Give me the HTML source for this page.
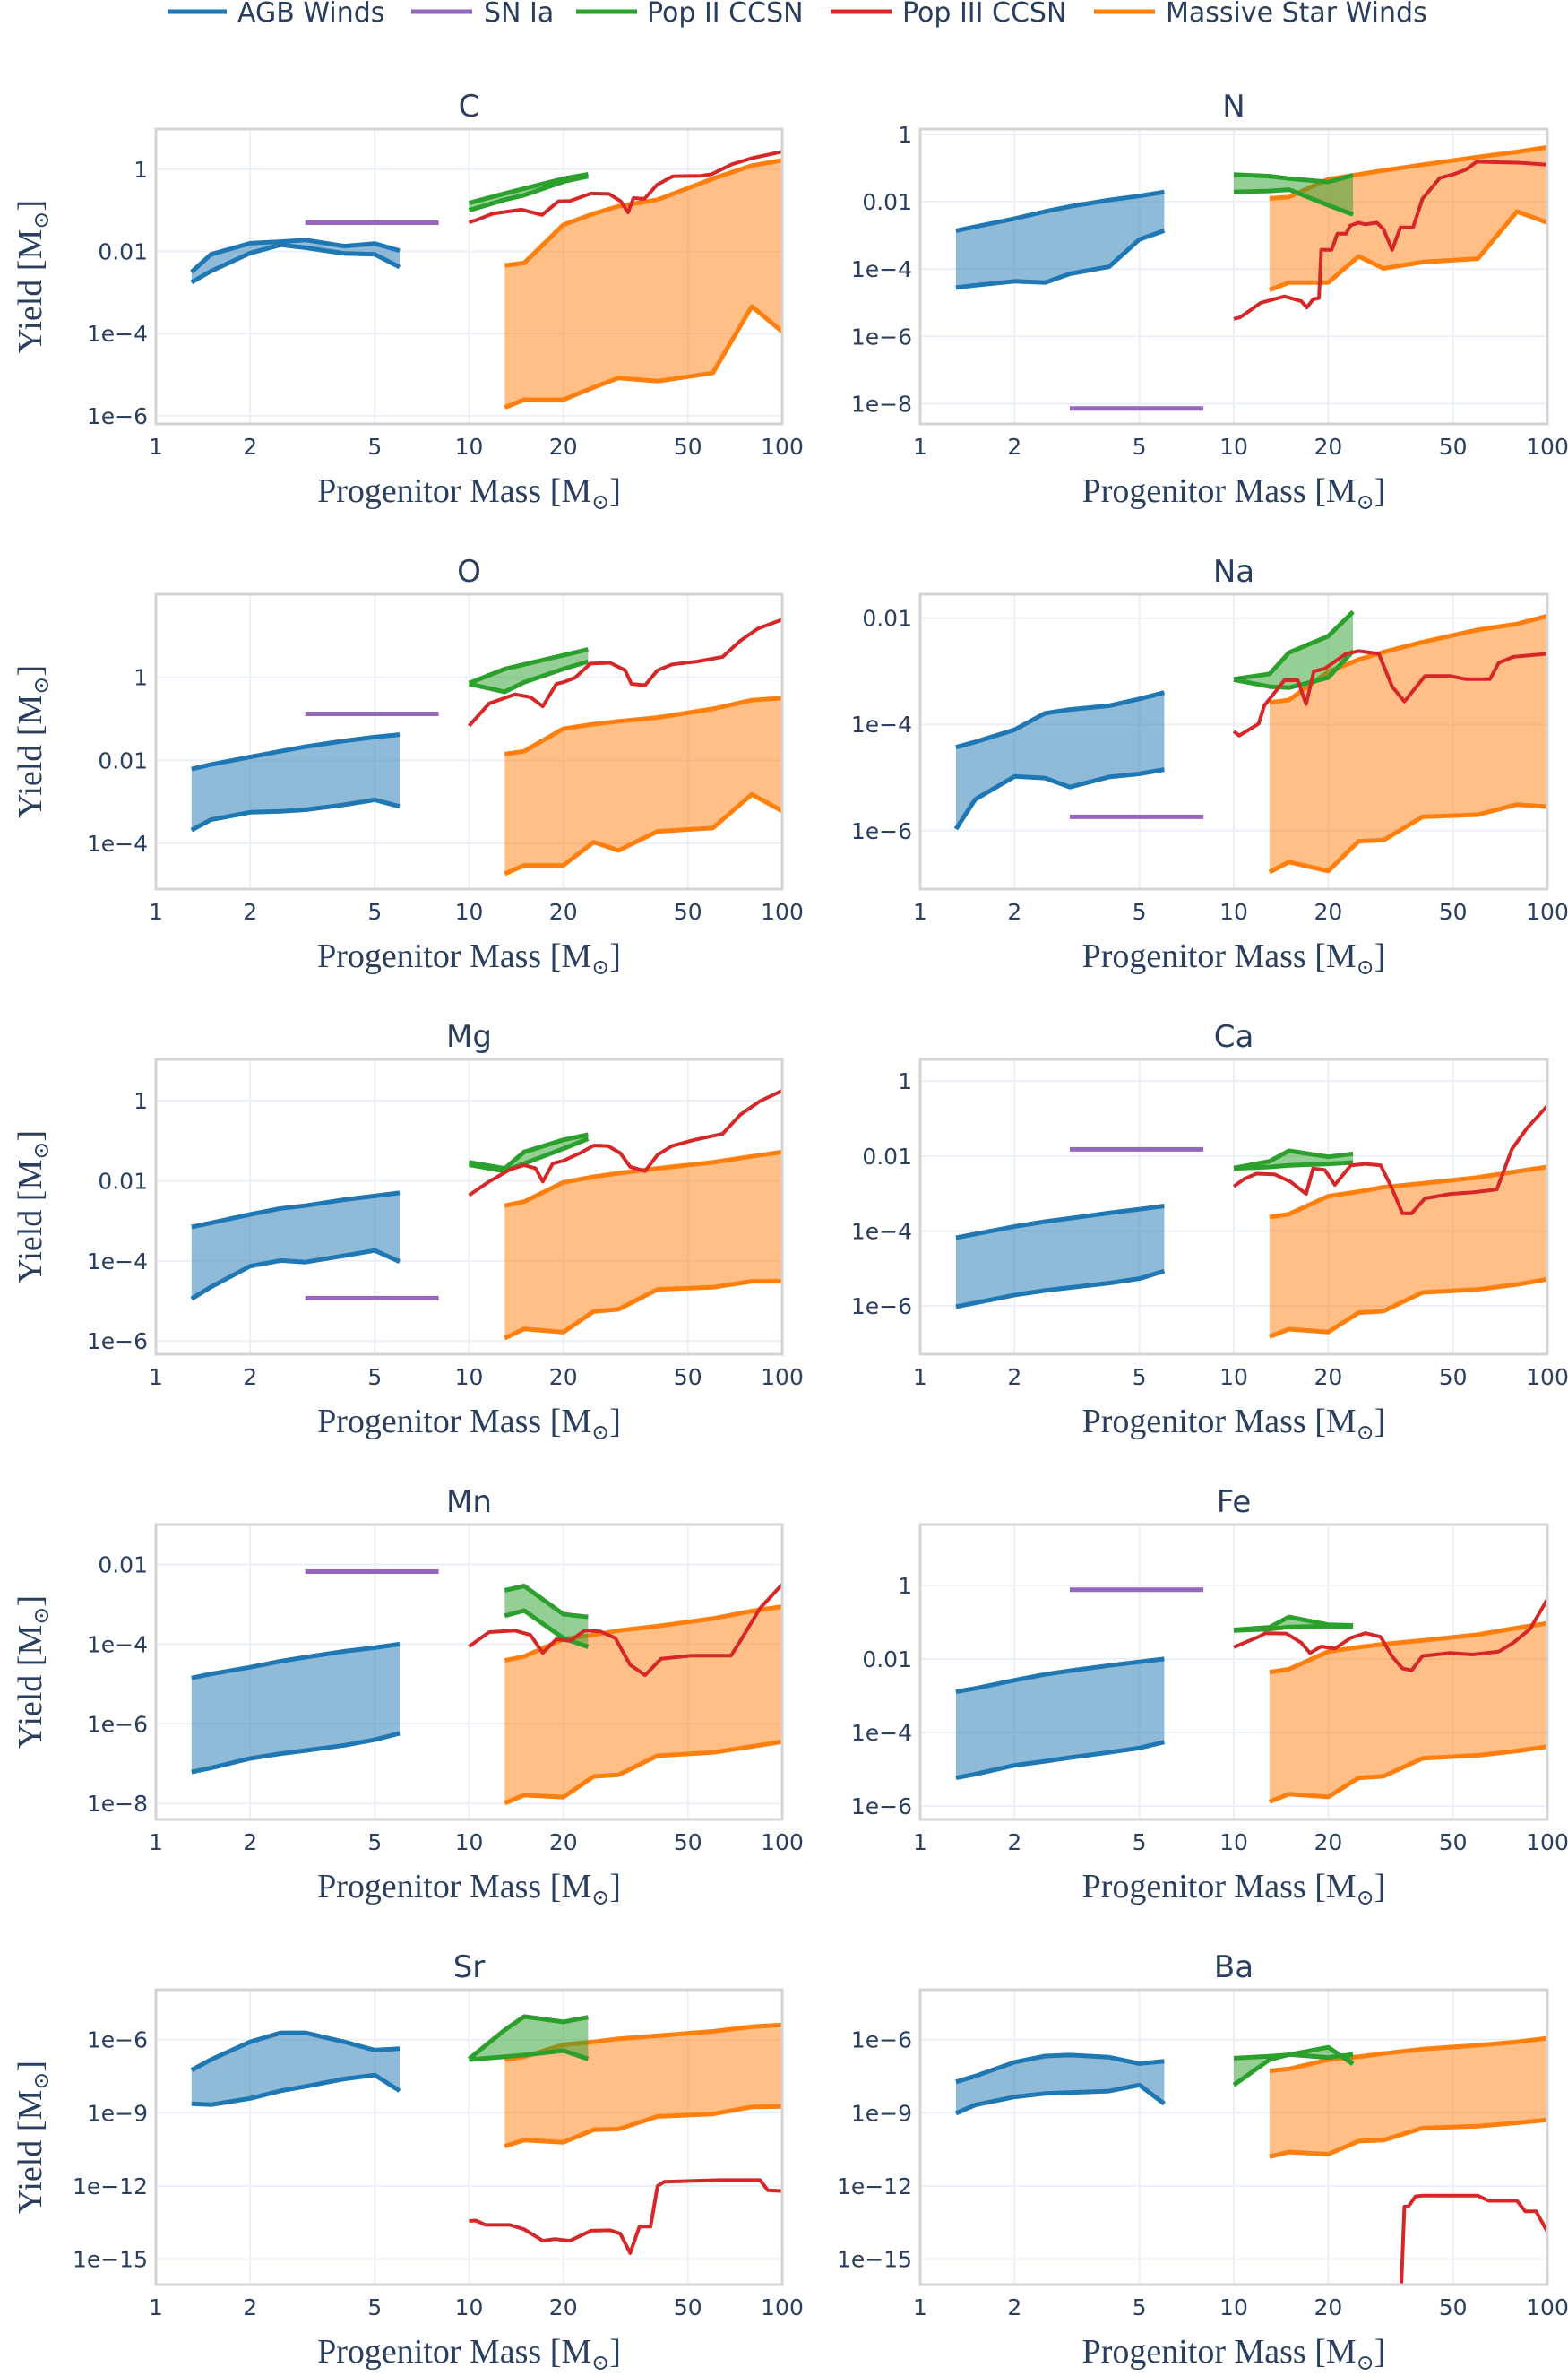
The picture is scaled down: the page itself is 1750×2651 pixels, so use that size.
<!DOCTYPE html>
<html><head><meta charset="utf-8"><title>Yields</title>
<style>
html,body{margin:0;padding:0;background:#fff;}
svg{display:block;}
text{font-family:"DejaVu Sans","Liberation Sans",sans-serif;fill:#2a3f5f;}
.serif{font-family:"Liberation Serif","DejaVu Serif",serif;}
</style></head>
<body>
<svg id="chart" xmlns="http://www.w3.org/2000/svg" width="1750" height="2651" viewBox="0 0 1750 2651">
<g id="legend">
  <g><line x1="187" y1="13" x2="253" y2="13" stroke="#1f77b4" stroke-width="5"/><text x="265" y="24" font-size="30">AGB Winds</text></g>
  <g><line x1="459" y1="13" x2="527" y2="13" stroke="#9467bd" stroke-width="5"/><text x="540" y="24" font-size="30">SN Ia</text></g>
  <g><line x1="643" y1="13" x2="711" y2="13" stroke="#2ca02c" stroke-width="5"/><text x="722" y="24" font-size="30">Pop II CCSN</text></g>
  <g><line x1="927" y1="13" x2="995" y2="13" stroke="#d62728" stroke-width="5"/><text x="1007" y="24" font-size="30">Pop III CCSN</text></g>
  <g><line x1="1221" y1="13" x2="1289" y2="13" stroke="#ff7f0e" stroke-width="5"/><text x="1301" y="24" font-size="30">Massive Star Winds</text></g>
</g>
</svg>
<script>
// ---- shared mass grids ----
const agbMass = [1.3, 1.5, 2, 2.5, 3, 4, 5, 6];
const msMass = [13, 15, 20, 25, 30, 40, 60, 80, 100];
const popIIMass = [10, 13, 15, 20, 24];
const snIaMass = [3, 8];
const xTickVals = [1, 2, 5, 10, 20, 50, 100];
const xTickLabels = ["1", "2", "5", "10", "20", "50", "100"];
const elements = ["C", "N", "O", "Na", "Mg", "Ca", "Mn", "Fe", "Sr", "Ba"];

// ---- y ranges (log10) ----
const C_range = [-6.2, 0.98];
const N_range = [-8.6, 0.16];
const O_range = [-5.1, 2.0];
const Na_range = [-7.1, -1.55];
const Mg_range = [-6.33, 1.03];
const Ca_range = [-7.29, 0.58];
const Mn_range = [-8.4, -1.0];
const Fe_range = [-6.36, 1.65];
const Sr_range = [-16.05, -3.95];
const Ba_range = [-16.05, -3.95];

// ---- y ticks (log10) ----
const C_ticks = [0, -2, -4, -6];
const N_ticks = [0, -2, -4, -6, -8];
const O_ticks = [0, -2, -4];
const Na_ticks = [-2, -4, -6];
const Mg_ticks = [0, -2, -4, -6];
const Ca_ticks = [0, -2, -4, -6];
const Mn_ticks = [-2, -4, -6, -8];
const Fe_ticks = [0, -2, -4, -6];
const Sr_ticks = [-6, -9, -12, -15];
const Ba_ticks = [-6, -9, -12, -15];

// ---- C ----
const C_agbHi = [-2.5, -2.07, -1.80, -1.76, -1.72, -1.87, -1.81, -1.98];
const C_agbLo = [-2.75, -2.48, -2.04, -1.84, -1.91, -2.05, -2.07, -2.38];
const C_snIa = -1.30;
const C_p2Hi = [-0.82, -0.59, -0.47, -0.23, -0.12];
const C_p2Lo = [-1.0, -0.74, -0.63, -0.30, -0.17];
const C_p3Mass = [10, 10.6, 11.9, 14.7, 17.1, 19.3, 21, 24.5, 28, 30.5, 32.2, 33.5, 36.3, 39.8, 44.7, 55, 59.5, 69, 80, 100];
const C_p3 = [-1.29, -1.23, -1.08, -0.98, -1.11, -0.78, -0.77, -0.59, -0.60, -0.78, -1.05, -0.70, -0.72, -0.38, -0.17, -0.16, -0.12, 0.12, 0.27, 0.43];
const C_msHi = [-2.34, -2.28, -1.35, -1.08, -0.90, -0.74, -0.23, 0.09, 0.22];
const C_msLo = [-5.80, -5.61, -5.61, -5.31, -5.08, -5.16, -4.96, -3.34, -3.95];

// ---- N ----
const N_agbHi = [-2.86, -2.74, -2.50, -2.29, -2.14, -1.95, -1.83, -1.71];
const N_agbLo = [-4.55, -4.48, -4.36, -4.40, -4.14, -3.93, -3.12, -2.86];
const N_snIa = -8.14;
const N_p2Hi = [-1.19, -1.24, -1.31, -1.41, -1.21];
const N_p2Lo = [-1.71, -1.68, -1.64, -2.10, -2.38];
const N_p3Mass = [10, 10.5, 12.2, 14.5, 16.4, 17.1, 17.9, 18.7, 19, 20.5, 21.4, 22.8, 23.5, 25, 26.3, 28.6, 30, 32, 34, 37.3, 40, 41.7, 45.4, 50, 54.9, 59.6, 82.2, 100];
const N_p3 = [-5.48, -5.43, -5.0, -4.81, -4.95, -5.14, -4.90, -4.86, -3.43, -3.43, -2.95, -2.95, -2.71, -2.62, -2.67, -2.62, -2.81, -3.43, -2.76, -2.76, -1.90, -1.71, -1.29, -1.19, -1.05, -0.81, -0.84, -0.90];
const N_msHi = [-1.90, -1.86, -1.33, -1.19, -1.07, -0.90, -0.67, -0.52, -0.38];
const N_msLo = [-4.62, -4.40, -4.40, -3.62, -3.98, -3.79, -3.69, -2.29, -2.62];

// ---- O ----
const O_agbHi = [-2.21, -2.10, -1.92, -1.78, -1.67, -1.53, -1.44, -1.38];
const O_agbLo = [-3.68, -3.43, -3.25, -3.23, -3.19, -3.07, -2.95, -3.11];
const O_snIa = -0.88;
const O_p2Hi = [-0.14, 0.20, 0.31, 0.53, 0.67];
const O_p2Lo = [-0.16, -0.35, -0.12, 0.20, 0.38];
const O_p3Mass = [10, 11.6, 14, 15.7, 17.2, 19, 20, 21.8, 24.4, 28.2, 31.5, 33, 36.5, 40, 44.5, 53.3, 64.5, 73.5, 83.5, 100];
const O_p3 = [-1.17, -0.63, -0.41, -0.48, -0.70, -0.16, -0.12, -0.01, 0.33, 0.35, 0.17, -0.16, -0.19, 0.17, 0.31, 0.38, 0.49, 0.88, 1.17, 1.39];
const O_msHi = [-1.85, -1.78, -1.24, -1.13, -1.06, -0.97, -0.76, -0.55, -0.50];
const O_msLo = [-4.73, -4.53, -4.53, -3.97, -4.17, -3.71, -3.63, -2.82, -3.22];

// ---- Na ----
const Na_agbHi = [-4.43, -4.33, -4.10, -3.79, -3.72, -3.65, -3.52, -3.40];
const Na_agbLo = [-5.97, -5.41, -4.98, -5.01, -5.18, -4.99, -4.93, -4.85];
const Na_snIa = -5.74;
const Na_p2Hi = [-3.15, -3.05, -2.65, -2.34, -1.88];
const Na_p2Lo = [-3.16, -3.29, -3.31, -3.12, -2.62];
const Na_p3Mass = [10, 10.4, 12, 12.5, 14.5, 16, 17, 18, 19.5, 22.8, 25, 29, 32, 35, 40.7, 49, 55, 65.6, 70, 77.9, 100];
const Na_p3 = [-4.13, -4.21, -3.99, -3.65, -3.17, -3.17, -3.62, -3.0, -2.95, -2.67, -2.62, -2.67, -3.29, -3.57, -3.09, -3.09, -3.15, -3.15, -2.84, -2.73, -2.67];
const Na_msHi = [-3.59, -3.54, -3.01, -2.78, -2.64, -2.45, -2.22, -2.11, -1.96];
const Na_msLo = [-6.78, -6.59, -6.76, -6.20, -6.18, -5.74, -5.70, -5.51, -5.55];

// ---- Mg ----
const Mg_agbHi = [-3.15, -3.05, -2.84, -2.69, -2.62, -2.47, -2.38, -2.30];
const Mg_agbLo = [-4.95, -4.65, -4.13, -3.99, -4.03, -3.87, -3.74, -4.02];
const Mg_snIa = -4.93;
const Mg_p2Hi = [-1.54, -1.69, -1.28, -0.98, -0.85];
const Mg_p2Lo = [-1.60, -1.76, -1.57, -1.20, -0.95];
const Mg_p3Mass = [10, 11.6, 13.5, 15, 16.3, 17.2, 18.5, 20, 22.6, 25, 27.8, 30.4, 32.7, 36.5, 40, 44.5, 52.4, 64.5, 73.5, 85, 100];
const Mg_p3 = [-2.36, -2.02, -1.72, -1.61, -1.69, -2.02, -1.57, -1.50, -1.31, -1.12, -1.13, -1.31, -1.65, -1.76, -1.35, -1.13, -0.98, -0.83, -0.35, -0.01, 0.25];
const Mg_msHi = [-2.62, -2.52, -2.04, -1.90, -1.81, -1.69, -1.54, -1.39, -1.28];
const Mg_msLo = [-5.93, -5.70, -5.78, -5.26, -5.21, -4.71, -4.66, -4.51, -4.51];

// ---- Ca ----
const Ca_agbHi = [-4.18, -4.08, -3.88, -3.75, -3.66, -3.52, -3.42, -3.33];
const Ca_agbLo = [-6.02, -5.92, -5.71, -5.59, -5.51, -5.39, -5.27, -5.07];
const Ca_snIa = -1.82;
const Ca_p2Hi = [-2.32, -2.14, -1.86, -2.02, -1.94];
const Ca_p2Lo = [-2.33, -2.29, -2.25, -2.21, -2.17];
const Ca_p3Mass = [10, 10.8, 11.8, 13.5, 15.2, 17, 17.9, 19.5, 21, 23.6, 26.3, 29.4, 31.9, 34.5, 36.9, 40.7, 49, 57.7, 69, 77, 86, 100];
const Ca_p3 = [-2.81, -2.61, -2.47, -2.49, -2.69, -3.01, -2.33, -2.37, -2.77, -2.25, -2.21, -2.25, -2.85, -3.53, -3.53, -3.13, -3.01, -2.97, -2.89, -1.82, -1.26, -0.66];
const Ca_msHi = [-3.63, -3.55, -3.07, -2.95, -2.83, -2.73, -2.57, -2.41, -2.29];
const Ca_msLo = [-6.82, -6.62, -6.70, -6.18, -6.14, -5.64, -5.56, -5.43, -5.29];

// ---- Mn ----
const Mn_agbHi = [-4.85, -4.75, -4.58, -4.43, -4.33, -4.18, -4.09, -4.0];
const Mn_agbLo = [-7.21, -7.11, -6.87, -6.75, -6.67, -6.54, -6.40, -6.24];
const Mn_snIa = -2.18;
const Mn_p2Hi = [null, -2.65, -2.54, -3.25, -3.32];
const Mn_p2Lo = [null, -3.29, -3.16, -3.85, -4.07];
const Mn_p3Mass = [10, 11.6, 14, 15.7, 17.2, 19, 21, 23.4, 26.2, 29.3, 32.7, 36.5, 41, 51.2, 68.6, 73.5, 85, 100];
const Mn_p3 = [-4.06, -3.70, -3.66, -3.77, -4.22, -3.88, -3.92, -3.66, -3.68, -3.85, -4.52, -4.78, -4.37, -4.29, -4.29, -3.92, -3.10, -2.50];
const Mn_msHi = [-4.41, -4.31, -3.88, -3.77, -3.66, -3.55, -3.36, -3.17, -3.06];
const Mn_msLo = [-7.99, -7.79, -7.84, -7.32, -7.28, -6.80, -6.72, -6.57, -6.45];

// ---- Fe ----
const Fe_agbHi = [-2.89, -2.80, -2.58, -2.42, -2.32, -2.18, -2.08, -2.0];
const Fe_agbLo = [-5.23, -5.13, -4.89, -4.78, -4.68, -4.54, -4.42, -4.26];
const Fe_snIa = -0.12;
const Fe_p2Hi = [-1.21, -1.14, -0.86, -1.07, -1.09];
const Fe_p2Lo = [-1.23, -1.19, -1.13, -1.11, -1.13];
const Fe_p3Mass = [10, 12, 12.6, 14.7, 16.4, 17.5, 19, 21, 23.6, 26.3, 29.4, 31.9, 34.5, 36.9, 40, 49, 57.7, 70, 78, 88, 100];
const Fe_p3 = [-1.68, -1.40, -1.30, -1.31, -1.56, -1.84, -1.66, -1.72, -1.43, -1.30, -1.40, -1.92, -2.26, -2.31, -1.92, -1.84, -1.88, -1.80, -1.56, -1.19, -0.38];
const Fe_msHi = [-2.36, -2.28, -1.80, -1.68, -1.60, -1.50, -1.34, -1.16, -1.03];
const Fe_msLo = [-5.88, -5.67, -5.75, -5.23, -5.19, -4.70, -4.62, -4.50, -4.38];

// ---- Sr ----
const Sr_agbHi = [-7.25, -6.82, -6.09, -5.72, -5.72, -6.09, -6.43, -6.37];
const Sr_agbLo = [-8.63, -8.67, -8.41, -8.10, -7.92, -7.61, -7.45, -8.10];
const Sr_snIa = null;
const Sr_p2Hi = [-6.79, -5.6, -5.05, -5.27, -5.08];
const Sr_p2Lo = [-6.82, -6.70, -6.63, -6.45, -6.79];
const Sr_p3Mass = [10, 10.5, 11.3, 13.5, 15, 17.2, 18.8, 21, 24.5, 28.2, 30.4, 32.7, 35, 38, 40, 42, 63, 85, 90, 100];
const Sr_p3 = [-13.44, -13.42, -13.60, -13.60, -13.78, -14.25, -14.18, -14.25, -13.84, -13.82, -13.96, -14.76, -13.67, -13.67, -12.0, -11.83, -11.76, -11.76, -12.18, -12.21];
const Sr_msHi = [-6.82, -6.70, -6.21, -6.09, -5.96, -5.84, -5.66, -5.47, -5.39];
const Sr_msLo = [-10.37, -10.12, -10.21, -9.70, -9.67, -9.15, -9.05, -8.76, -8.74];

// ---- Ba ----
const Ba_agbHi = [-7.73, -7.49, -6.92, -6.67, -6.63, -6.72, -6.98, -6.88];
const Ba_agbLo = [-9.02, -8.68, -8.35, -8.21, -8.17, -8.11, -7.86, -8.63];
const Ba_snIa = null;
const Ba_p2Hi = [-6.76, -6.68, -6.62, -6.31, -7.0];
const Ba_p2Lo = [-7.86, -6.82, -6.61, -6.73, -6.60];
const Ba_p3Mass = [34, 35, 36, 38, 40, 60, 65, 80, 85, 92, 100];
const Ba_p3 = [-17, -12.85, -12.85, -12.43, -12.40, -12.40, -12.61, -12.61, -13.04, -13.04, -13.88];
const Ba_msHi = [-7.28, -7.20, -6.82, -6.70, -6.57, -6.39, -6.23, -6.09, -5.94];
const Ba_msLo = [-10.80, -10.61, -10.70, -10.16, -10.12, -9.63, -9.55, -9.41, -9.29];

const panelData = {
  C:{range:C_range,ticks:C_ticks,agbHi:C_agbHi,agbLo:C_agbLo,snIa:C_snIa,p2Hi:C_p2Hi,p2Lo:C_p2Lo,p3M:C_p3Mass,p3:C_p3,msHi:C_msHi,msLo:C_msLo},
  N:{range:N_range,ticks:N_ticks,agbHi:N_agbHi,agbLo:N_agbLo,snIa:N_snIa,p2Hi:N_p2Hi,p2Lo:N_p2Lo,p3M:N_p3Mass,p3:N_p3,msHi:N_msHi,msLo:N_msLo},
  O:{range:O_range,ticks:O_ticks,agbHi:O_agbHi,agbLo:O_agbLo,snIa:O_snIa,p2Hi:O_p2Hi,p2Lo:O_p2Lo,p3M:O_p3Mass,p3:O_p3,msHi:O_msHi,msLo:O_msLo},
  Na:{range:Na_range,ticks:Na_ticks,agbHi:Na_agbHi,agbLo:Na_agbLo,snIa:Na_snIa,p2Hi:Na_p2Hi,p2Lo:Na_p2Lo,p3M:Na_p3Mass,p3:Na_p3,msHi:Na_msHi,msLo:Na_msLo},
  Mg:{range:Mg_range,ticks:Mg_ticks,agbHi:Mg_agbHi,agbLo:Mg_agbLo,snIa:Mg_snIa,p2Hi:Mg_p2Hi,p2Lo:Mg_p2Lo,p3M:Mg_p3Mass,p3:Mg_p3,msHi:Mg_msHi,msLo:Mg_msLo},
  Ca:{range:Ca_range,ticks:Ca_ticks,agbHi:Ca_agbHi,agbLo:Ca_agbLo,snIa:Ca_snIa,p2Hi:Ca_p2Hi,p2Lo:Ca_p2Lo,p3M:Ca_p3Mass,p3:Ca_p3,msHi:Ca_msHi,msLo:Ca_msLo},
  Mn:{range:Mn_range,ticks:Mn_ticks,agbHi:Mn_agbHi,agbLo:Mn_agbLo,snIa:Mn_snIa,p2Hi:Mn_p2Hi,p2Lo:Mn_p2Lo,p3M:Mn_p3Mass,p3:Mn_p3,msHi:Mn_msHi,msLo:Mn_msLo},
  Fe:{range:Fe_range,ticks:Fe_ticks,agbHi:Fe_agbHi,agbLo:Fe_agbLo,snIa:Fe_snIa,p2Hi:Fe_p2Hi,p2Lo:Fe_p2Lo,p3M:Fe_p3Mass,p3:Fe_p3,msHi:Fe_msHi,msLo:Fe_msLo},
  Sr:{range:Sr_range,ticks:Sr_ticks,agbHi:Sr_agbHi,agbLo:Sr_agbLo,snIa:Sr_snIa,p2Hi:Sr_p2Hi,p2Lo:Sr_p2Lo,p3M:Sr_p3Mass,p3:Sr_p3,msHi:Sr_msHi,msLo:Sr_msLo},
  Ba:{range:Ba_range,ticks:Ba_ticks,agbHi:Ba_agbHi,agbLo:Ba_agbLo,snIa:Ba_snIa,p2Hi:Ba_p2Hi,p2Lo:Ba_p2Lo,p3M:Ba_p3Mass,p3:Ba_p3,msHi:Ba_msHi,msLo:Ba_msLo}
};

const NS = "http://www.w3.org/2000/svg";
const svg = document.getElementById("chart");
function mk(tag, attrs, parent){
  const e = document.createElementNS(NS, tag);
  for (const k in attrs) e.setAttribute(k, attrs[k]);
  parent.appendChild(e);
  return e;
}
function tickLabel(v){ if (v === 0) return "1"; if (v === -2) return "0.01"; return "1e\u2212" + (-v); }

const defs = mk("defs", {}, svg);

elements.forEach((el, i) => {
  const d = panelData[el];
  const col = i % 2, row = Math.floor(i / 2);
  const x0 = col === 0 ? 174 : 1027, x1 = col === 0 ? 873 : 1727;
  const top = 144 + 519 * row, bot = top + 329;
  const [ymin, ymax] = d.range;
  const xs = m => x0 + Math.log10(m) / 2 * (x1 - x0);
  const ys = v => top + (ymax - v) / (ymax - ymin) * (bot - top);

  const g = mk("g", {}, svg);
  
  

  const cp = mk("clipPath", {id: "clip-" + el}, defs);
  mk("rect", {x: x0, y: top, width: x1 - x0, height: bot - top}, cp);

  // title
  const t = mk("text", {x: (x0 + x1) / 2, y: top - 14, "text-anchor": "middle", "font-size": 34}, g);
  t.textContent = el;
  
  

  // grid
  const grid = mk("g", {stroke: "#ebf0f8", "stroke-width": 2}, g);
  
  
  xTickVals.forEach(v => { const x = xs(v); mk("line", {x1: x, x2: x, y1: top, y2: bot}, grid); });
  d.ticks.forEach(v => { const y = ys(v); mk("line", {x1: x0, x2: x1, y1: y, y2: y}, grid); });

  // x tick labels
  xTickVals.forEach((v, k) => {
    const tl = mk("text", {x: xs(v), y: bot + 34, "text-anchor": "middle", "font-size": 25}, g);
    tl.textContent = xTickLabels[k];
    
    
  });
  // y tick labels
  d.ticks.forEach(v => {
    const tl = mk("text", {x: x0 - 9, y: ys(v) + 9, "text-anchor": "end", "font-size": 25}, g);
    tl.textContent = tickLabel(v);
    
    
  });

  // x axis title
  const xt = mk("text", {x: (x0 + x1) / 2, y: bot + 87, "text-anchor": "middle", "font-size": 38, class: "serif"}, g);
  xt.innerHTML = 'Progenitor Mass [M<tspan font-size="24" dy="8">\u2299</tspan><tspan dy="-8">]</tspan>';
  
  

  if (col === 0) {
    const cy = (top + bot) / 2;
    const yt = mk("text", {x: 0, y: 0, "text-anchor": "middle", "font-size": 38, class: "serif", transform: "translate(46," + cy + ") rotate(-90)"}, g);
    yt.innerHTML = 'Yield [M<tspan font-size="24" dy="8">\u2299</tspan><tspan dy="-8">]</tspan>';
    
    
  }

  const marks = mk("g", {"clip-path": "url(#clip-" + el + ")", "stroke-linejoin": "round", fill: "none"}, g);
  
  

  function band(mass, hi, lo, color, fillc, name) {
    const pts = [];
    mass.forEach((m, k) => { if (hi[k] !== null && lo[k] !== null) pts.push([m, hi[k], lo[k]]); });
    if (!pts.length) return;
    let p = pts.map((q, k) => (k ? "L" : "M") + xs(q[0]).toFixed(1) + "," + ys(q[1]).toFixed(1)).join("");
    for (let k = pts.length - 1; k >= 0; k--) p += "L" + xs(pts[k][0]).toFixed(1) + "," + ys(pts[k][2]).toFixed(1);
    p += "Z";
    const f = mk("path", {d: p, fill: fillc, stroke: "none"}, marks);
    
    
    [1, 2].forEach(idx => {
      const lp = pts.map((q, k) => (k ? "L" : "M") + xs(q[0]).toFixed(1) + "," + ys(q[idx]).toFixed(1)).join("");
      const l = mk("path", {d: lp, stroke: color, "stroke-width": 5}, marks);
      
      
    });
  }

  band(msMass, d.msHi, d.msLo, "#ff7f0e", "rgba(255,127,14,0.5)", "massive-star-winds");
  band(agbMass, d.agbHi, d.agbLo, "#1f77b4", "rgba(31,119,180,0.5)", "agb-winds");
  band(popIIMass, d.p2Hi, d.p2Lo, "#2ca02c", "rgba(44,160,44,0.5)", "pop-ii-ccsn");

  if (d.snIa !== null) {
    const s = mk("line", {x1: xs(snIaMass[0]), x2: xs(snIaMass[1]), y1: ys(d.snIa), y2: ys(d.snIa), stroke: "#9467bd", "stroke-width": 5}, marks);
    
    
  }

  const rp = d.p3M.map((m, k) => (k ? "L" : "M") + xs(m).toFixed(1) + "," + ys(d.p3[k]).toFixed(1)).join("");
  const r = mk("path", {d: rp, stroke: "#d62728", "stroke-width": 4}, marks);
  
  

  // frame
  const fr = mk("rect", {x: x0, y: top, width: x1 - x0, height: bot - top, fill: "none", stroke: "#d4d4d4", "stroke-width": 3}, g);
  
  
});
</script>
</body></html>
